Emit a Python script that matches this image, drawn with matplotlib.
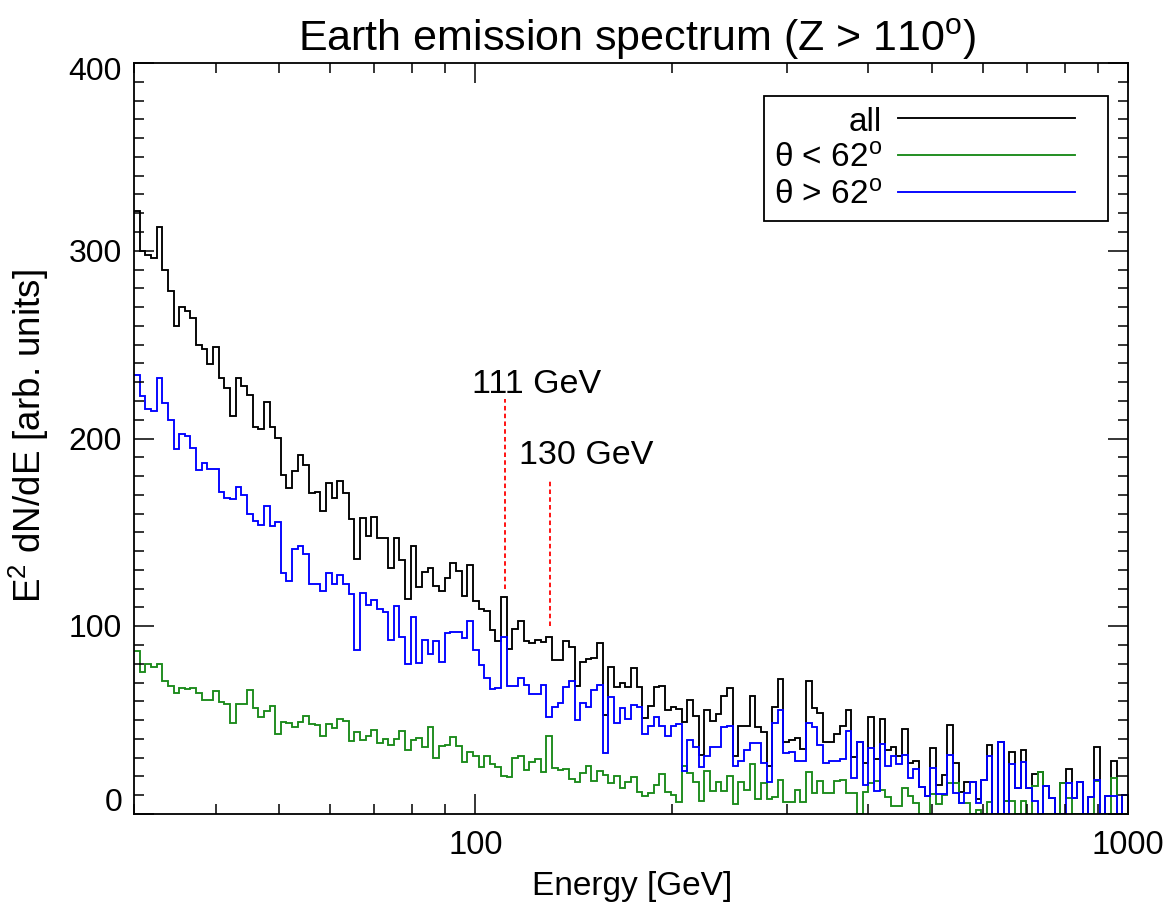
import numpy as np
import matplotlib
matplotlib.use('Agg')
import matplotlib.pyplot as plt
from matplotlib.lines import Line2D
from matplotlib.legend_handler import HandlerLine2D
from matplotlib.ticker import FixedLocator, MultipleLocator, NullFormatter
from matplotlib.transforms import ScaledTranslation

plt.rcParams['font.family'] = ['Liberation Sans', 'DejaVu Sans']
plt.rcParams['mathtext.fontset'] = 'custom'
plt.rcParams['mathtext.rm'] = 'Liberation Sans'
plt.rcParams['mathtext.it'] = 'Liberation Sans:italic'

# log-spaced energy binning of the histogram
E_MIN, E_MAX, N_BINS = 30.0, 1000.0, 176

# all events
all_counts = [
    321, 300, 297.5, 296, 312.6, 290, 278.6, 260, 270, 268, 264, 249.6, 247.5, 239.7, 249, 232,
    227, 211.8, 232, 228, 223, 206,
    205.1, 219.3, 206.3, 200.1, 180.5, 173.4, 182.9, 191.2, 185.9, 170.8, 171.6, 161.6, 176.3,
    168.1, 177.5, 170.8, 157.1, 135.8, 157.5, 147.9, 158,
    147,
    146.8, 130.9, 146.8, 135.3, 114.3, 142.6, 120.7, 128.7, 130.9, 121.6, 118.6, 125.7, 133.7,
    129.6, 116.3, 132.6, 113.6, 109.2, 108.3, 98.2,
    92,
    115.4, 87.9, 98.6, 103, 92.3, 91.1, 92.7, 91.8, 94.5, 82.2, 82.2, 92.3, 89.1, 68.3, 80.8,
    82.6, 82.9, 91.1, 52.9, 78.1, 67.8, 70,
    67.5, 77.6, 67.5, 50.9, 57.7, 67.5, 68.4, 55.6, 57.2, 55.9, 48.8, 60.6, 52.4, 31.4, 55.6,
    49.7, 53.3, 63, 67.1, 31, 46.7, 47,
    63, 46.2, 43.5, 25.7, 57.2, 72.1, 38.5, 39.6, 40.3, 34.6, 70.6, 56.3, 53.6, 38.2, 38.5,
    42.6, 47, 55.6, 30.2, 38.5, 27.2, 51.5, 29.3, 50.5,
    34.3, 35.5, 31.1, 45.3, 27.2, 28.1, 14.2, 9.4, 34.9, 15.6, 20.8, 47.4, 27.2, 11.5, 17.2,
    17.2, 8, 18.1, 36.7, 0, 38.5, 7.1,
    33.2, 13.7, 34.3, 13.7, 21.3, 22.5, 14.8, 8.4, 0, 16.5, 23.9, 8.4, 17.2, 0, 8.9, 35.9, 0,
    9.8, 28, 0, 10.3,
]

# theta < 62 deg
low_theta = [
    86.8, 75.8, 80, 78.4, 80, 70.6, 68, 64.7, 67, 66.4, 67, 64.7, 60.5, 60.5, 65.3, 59.7, 58.4,
    48.5, 58.4, 58.4, 66, 56.3,
    51.5, 55, 57.3, 42.6, 49.2, 48.5, 46.2, 48.8, 52, 47.9, 47.4, 41.7, 47.9, 45.6, 50.6, 49.7,
    39.1, 43.5, 39.6, 41.7, 45,
    38,
    39.9, 36.7, 40, 44, 34.2, 39.5, 40.3, 35.8, 46.1, 29.6, 36, 36.9, 40.8, 36.3, 27.8, 33.2,
    30.7, 24.8, 30.7, 26.6,
    25,
    20.1, 19.5, 29.8, 30.7, 23.6, 27.5, 29.3, 22.2, 41.7, 24.3, 23.6, 24, 18.6, 17.2, 21.6, 25.4,
    17.7, 22.7, 20.8, 16.5, 20.1, 14,
    16.9, 19.5, 11.5, 9.8, 11.2, 15.6, 21.3, 11.5, 10.3, 6.2, 25.7, 21.8, 16.9, 7.1, 23.1, 12.1,
    16.9, 12.1, 20, 5.3, 17, 13,
    26.6, 7.9, 16.4, 7.9, 9, 18, 6.2, 6.4, 12.9, 6.2, 22.2, 11.2, 17.4, 11.2, 11.2, 17.4, 18,
    11.2, 11.2, 0, 11.6, 16.4, 17.7, 13,
    8.8, 4.4, 4.4, 13.8, 9.8, 5.7, 0, 0, 10.6, 5.3, 10.2, 16.4, 16.4, 5.8, 6, 0, 2, 0, 6.2, 0,
    0, 7.1,
    7.1, 0, 7.1, 0, 14.8, 22.5, 0, 0, 0, 16.5, 8.4, 0, 0, 0, 0, 17.6, 0, 0, 19, 0, 0,
]

# theta > 62 deg
high_theta = [
    234, 222.5, 215.5, 214.5, 232, 219, 210, 194.5, 202.5, 201.5, 195, 183.4, 186.8, 184, 184,
    171.4, 168.3, 168, 174, 170, 160, 156,
    154, 164.2, 153.6, 155.7, 128.4, 124.3, 141.1, 142.9, 138.5, 122.5, 122.5, 119, 128.4, 122.5,
    127.5, 122.5, 117.2, 87.5, 117.5, 111.3, 114.2,
    109,
    107.4, 92.8, 110.6, 94.1, 79.9, 104.8, 80.4, 92.7, 85.2, 92, 80.8, 96.4, 96.8, 96.8, 93.6,
    103, 87.6, 79.4, 72.3, 66.6,
    67,
    94.5, 68.3, 68.3, 72.4, 68.9, 63.9, 63.9, 68.9, 51.7, 57.2, 58.9, 67.8, 70.7, 50.2, 58.9,
    56.8, 66.2, 68.9, 32.5, 62.5, 48.5, 56.5,
    50.6, 58.1, 56.8, 42.6, 47, 51.5, 47, 41.7, 46.7, 47.9, 23.1, 39.4, 35.5, 24.8, 31, 35.5,
    35.9, 46.2, 47, 25.7, 28.4, 34.3,
    37.9, 37.9, 27.1, 17.2, 48.5, 55.6, 32.4, 33.2, 28.4, 28.4, 48.5, 46.2, 36.7, 27.1, 28.4,
    28.4, 29.3, 44.4, 19, 38.5, 15.6, 35, 12.4, 37.5,
    25.7, 31.1, 26.6, 31.6, 19.2, 24, 14.2, 9.4, 24.4, 10.6, 10.6, 31.6, 11.2, 5.7, 11.2, 17.2,
    5.9, 18.1, 31.1, 0, 38.5, 0,
    26.6, 13.7, 27.5, 13.7, 7.1, 0, 14.8, 8.4, 0, 0, 16.5, 8.4, 17.2, 0, 8.9, 18.3, 0, 9.8,
    9.8, 0, 10.3,
]

series_labels = ['all', 'θ < 62$^{\\rm o}$', 'θ > 62$^{\\rm o}$']
series_colors = ['black', '#1a8a1a', '#0000ff']

# line markers
marker_energy = [111, 130]
marker_bottom = [120, 100]
marker_top = [221, 178]
marker_text = ['111 GeV', '130 GeV']
marker_text_x = [99, 116.5]
marker_text_y = [225, 187]

y_major = [0, 100, 200, 300, 400]
x_major = [100, 1000]
x_minor = [30, 40, 50, 60, 70, 80, 90, 200, 300, 400, 500, 600, 700, 800, 900]


class ShortLine(HandlerLine2D):
    # legend line stops a bit short of the handle box, leaving room on the right
    def create_artists(self, legend, orig_handle, xdescent, ydescent, width, height,
                       fontsize, trans):
        return super().create_artists(legend, orig_handle, xdescent, ydescent,
                                      width - 16.5, height, fontsize, trans)


edges = np.geomspace(E_MIN, E_MAX, N_BINS + 1)

fig = plt.figure(figsize=(11.7, 9.04), dpi=100)
ax = fig.add_axes([134 / 1170, 1 - 815 / 904, 994 / 1170, 751 / 904])

for vals, col in zip([all_counts, low_theta, high_theta], series_colors):
    ax.stairs(vals, edges, baseline=None, color=col, lw=1.35)

ax.vlines(marker_energy, marker_bottom, marker_top, colors='red', lw=1.3,
          linestyles=(0, (2.5, 1.8)))
for x, y, t in zip(marker_text_x, marker_text_y, marker_text):
    ax.text(x, y, t, fontsize=24.5, ha='left', va='baseline')

ax.set_xscale('log')
ax.set_xlim(E_MIN, E_MAX)
ax.set_ylim(0, 400)

ax.xaxis.set_major_locator(FixedLocator(x_major))
ax.xaxis.set_minor_locator(FixedLocator(x_minor))
ax.xaxis.set_minor_formatter(NullFormatter())
ax.set_xticklabels([str(v) for v in x_major], fontsize=23.5)
ax.set_yticks(y_major)
ax.yaxis.set_minor_locator(MultipleLocator(10))
ax.set_yticklabels([])

ax.tick_params(which='both', direction='in', top=True, right=True, width=1.1)
ax.tick_params(which='major', length=14.4, pad=11)
ax.tick_params(which='minor', length=7.2)
for sp in ax.spines.values():
    sp.set_linewidth(1.3)

# end labels are pulled inside the frame, like in the original
for v in y_major:
    dy = -8 if v == 400 else (12 if v == 0 else -2)
    tr = ax.get_yaxis_transform() + ScaledTranslation(-12 / 100, dy / 100, fig.dpi_scale_trans)
    ax.text(0, v, str(v), transform=tr, ha='right', va='center', fontsize=23)

handles = [Line2D([], [], color=c, lw=1.35) for c in series_colors]
leg = ax.legend(handles, series_labels, loc='upper right', fontsize=24,
                bbox_to_anchor=(1108 / 1170, 1 - 97 / 904), bbox_transform=fig.transFigure,
                borderaxespad=0, markerfirst=False, handlelength=6.0, handletextpad=0.48,
                labelspacing=0.18, borderpad=0.3, fancybox=False, framealpha=1,
                edgecolor='black', handler_map={Line2D: ShortLine()})
leg.get_frame().set_linewidth(1.3)

fig.text(637 / 1170, 1 - 51 / 904, 'Earth emission spectrum (Z > 110$^{\\rm o}$)',
         ha='center', va='baseline', fontsize=31)
fig.text(632 / 1170, 1 - 895 / 904, 'Energy [GeV]', ha='center', va='baseline', fontsize=24)
fig.text(29 / 1170, 1 - 436 / 904, 'E$^{2}$ dN/dE [arb. units]', rotation=90,
         ha='center', va='center', fontsize=26.5)

fig.savefig('out.png', dpi=100)
